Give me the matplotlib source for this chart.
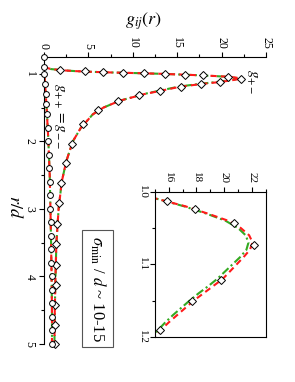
import matplotlib
matplotlib.use('Agg')
import matplotlib.pyplot as plt
from matplotlib.ticker import MultipleLocator

plt.rcParams['font.family'] = ['Liberation Serif', 'DejaVu Serif']
plt.rcParams['mathtext.fontset'] = 'stix'

# theory curves for g+- (red = dashed, green = dash-dot)
r_pm_line = [0.75, 0.90, 0.93, 0.95, 0.96, 0.97, 0.98, 0.99, 1.00, 1.01, 1.02, 1.03,
             1.04, 1.05, 1.06, 1.07, 1.08, 1.09, 1.10, 1.11, 1.12, 1.13, 1.14, 1.15,
             1.16, 1.17, 1.18, 1.19, 1.20, 1.25, 1.30, 1.40, 1.50, 1.60, 1.80, 2.00,
             2.30, 2.60, 3.00, 3.50, 4.00, 4.50, 5.00]
g_pm_red = [0.0, 0.0, 0.8, 2.3, 3.5, 5.2, 7.5, 10.5, 13.2, 15.2, 17.2, 18.8,
            20.3, 21.2, 21.8, 22.05, 21.85, 21.4, 20.9, 20.4, 19.9, 19.2, 18.5, 17.8,
            17.2, 16.6, 16.0, 15.45, 15.0, 13.2, 11.3, 8.5, 6.7, 5.5, 4.15, 3.25,
            2.5, 2.0, 1.65, 1.4, 1.3, 1.22, 1.18]
g_pm_green = [0.0, 0.0, 0.8, 2.3, 3.5, 5.2, 7.5, 10.5, 13.2, 15.2, 17.1, 18.7,
              20.1, 21.0, 21.55, 21.75, 21.6, 21.15, 20.6, 20.05, 19.5, 18.85, 18.15, 17.5,
              16.9, 16.3, 15.75, 15.25, 14.8, 13.0, 11.2, 8.5, 6.7, 5.5, 4.15, 3.25,
              2.5, 2.0, 1.65, 1.4, 1.3, 1.22, 1.18]

# simulation points g+-
r_pm_pts = [0.945, 0.965, 0.975, 0.985, 0.993, 1.001, 1.013, 1.024, 1.043, 1.073,
            1.122, 1.151, 1.191, 1.253, 1.317, 1.407, 1.541, 1.75, 2.034, 2.317,
            2.616, 2.914, 3.228, 3.526, 3.825, 4.123, 4.42, 4.72, 5.0]
g_pm_pts = [1.8, 4.6, 6.7, 8.9, 11.3, 13.6, 15.84, 17.9, 20.7, 22.16,
            19.8, 17.7, 15.4, 13.1, 10.7, 8.33, 6.08, 4.39, 3.15, 2.48,
            1.91, 1.69, 1.46, 1.35, 1.35, 1.35, 1.2, 1.24, 1.2]

# g++ = g--
r_pp_line = [0.75, 0.95, 0.99, 1.0, 1.1, 1.3, 1.5, 1.8, 2.0, 2.5, 3.0, 3.5, 4.0, 4.5, 5.0]
g_pp_line = [0.0, 0.0, 0.0, 0.05, 0.1, 0.2, 0.3, 0.42, 0.5, 0.65, 0.73, 0.8, 0.86, 0.9, 0.9]
r_pp_pts = [0.75, 0.9, 1.0, 1.15, 1.3, 1.45, 1.6, 1.8, 2.0, 2.2, 2.4, 2.6, 2.8, 3.0,
            3.2, 3.4, 3.6, 3.8, 4.0, 4.2, 4.4, 4.6, 4.8, 5.0]
g_pp_pts = [0.0, 0.0, 0.05, 0.12, 0.2, 0.27, 0.33, 0.42, 0.5, 0.56, 0.62, 0.67, 0.7, 0.73,
            0.76, 0.79, 0.82, 0.84, 0.86, 0.88, 0.9, 0.9, 0.9, 0.9]

g_ticks = [0, 5, 10, 15, 20, 25]
r_ticks = [1, 2, 3, 4, 5]
inset_g_ticks = [16, 18, 20, 22]
inset_r_ticks = [1.0, 1.1, 1.2]

red = '#ff1a1a'
green = '#33aa22'
dashdot = (0, (4, 1.5, 1, 1.5))
dashed = (0, (3, 2))

fig = plt.figure(figsize=(2.95, 3.82), dpi=100)

# main panel (drawn rotated: g to the right, r downwards)
ax = fig.add_axes([0.149, 0.0995, 0.753, 0.7515])
ax.plot(g_pm_green, r_pm_line, color=green, lw=1.5, ls=dashdot)
ax.plot(g_pm_red, r_pm_line, color=red, lw=1.5, ls=dashed)
ax.plot(g_pp_line, r_pp_line, color=green, lw=1.5, ls=dashdot)
ax.plot(g_pp_line, r_pp_line, color=red, lw=1.5, ls=dashed)
ax.plot(g_pm_pts, r_pm_pts, ls='none', marker='D', ms=3.8, mfc='white', mec='black',
        mew=0.7, clip_on=False, zorder=5)
ax.plot(g_pp_pts, r_pp_pts, ls='none', marker='o', ms=4.2, mfc='white', mec='black',
        mew=0.7, clip_on=False, zorder=5)

ax.set_xlim(0, 25)
ax.set_ylim(5, 0.75)
ax.xaxis.tick_top()
ax.set_xticks(g_ticks)
ax.set_yticks(r_ticks)
ax.xaxis.set_minor_locator(MultipleLocator(2.5))
ax.yaxis.set_minor_locator(MultipleLocator(0.5))
ax.spines['right'].set_visible(False)
ax.spines['bottom'].set_visible(False)
ax.tick_params(which='both', direction='out', labelsize=8.5, width=0.8, pad=2.5)
ax.tick_params(which='major', length=3.5)
ax.tick_params(which='minor', length=2)
for lab in ax.get_xticklabels():
    lab.set_rotation(-90)
    lab.set_va('bottom')
    lab.set_ha('center')
for lab in ax.get_yticklabels():
    lab.set_rotation(-90)
    lab.set_va('center')
    lab.set_ha('right')

ax.text(23.4, 1.12, r'$g_{+-}$', rotation=-90, fontsize=11, ha='center', va='center')
ax.text(1.7, 1.62, r'$g_{++} = g_{--}$', rotation=-90, fontsize=11, ha='center', va='center')
ax.text(6.0, 4.18, r'$\sigma_{\rm min}$ / $d$ ~ 10-15', rotation=-90, fontsize=12,
        ha='center', va='center',
        bbox=dict(boxstyle='square,pad=0.35', fc='white', ec='#555555', lw=0.8))

fig.text(0.485, 0.945, r'$g_{ij}(r)$', fontsize=13, ha='center', va='center')
fig.text(0.05, 0.46, r'$r/d$', fontsize=13, rotation=-90, ha='center', va='center')

# inset: zoom on the contact peak
ins = fig.add_axes([0.525, 0.118, 0.376, 0.380])
ins.plot(g_pm_green, r_pm_line, color=green, lw=1.5, ls=dashdot)
ins.plot(g_pm_red, r_pm_line, color=red, lw=1.5, ls=dashed)
ins.plot(g_pm_pts, r_pm_pts, ls='none', marker='D', ms=3.8, mfc='white', mec='black',
         mew=0.7, zorder=5)
ins.set_xlim(15, 23)
ins.set_ylim(1.2, 1.0)
ins.xaxis.tick_top()
ins.set_xticks(inset_g_ticks)
ins.set_yticks(inset_r_ticks)
ins.xaxis.set_minor_locator(MultipleLocator(1))
ins.yaxis.set_minor_locator(MultipleLocator(0.05))
ins.tick_params(which='both', direction='out', labelsize=8, width=0.8, pad=2.5)
ins.tick_params(which='major', length=3.5)
ins.tick_params(which='minor', length=2)
for lab in ins.get_xticklabels():
    lab.set_rotation(-90)
    lab.set_va('bottom')
    lab.set_ha('center')
for lab in ins.get_yticklabels():
    lab.set_rotation(-90)
    lab.set_va('center')
    lab.set_ha('right')

fig.savefig('out.png', dpi=100)
